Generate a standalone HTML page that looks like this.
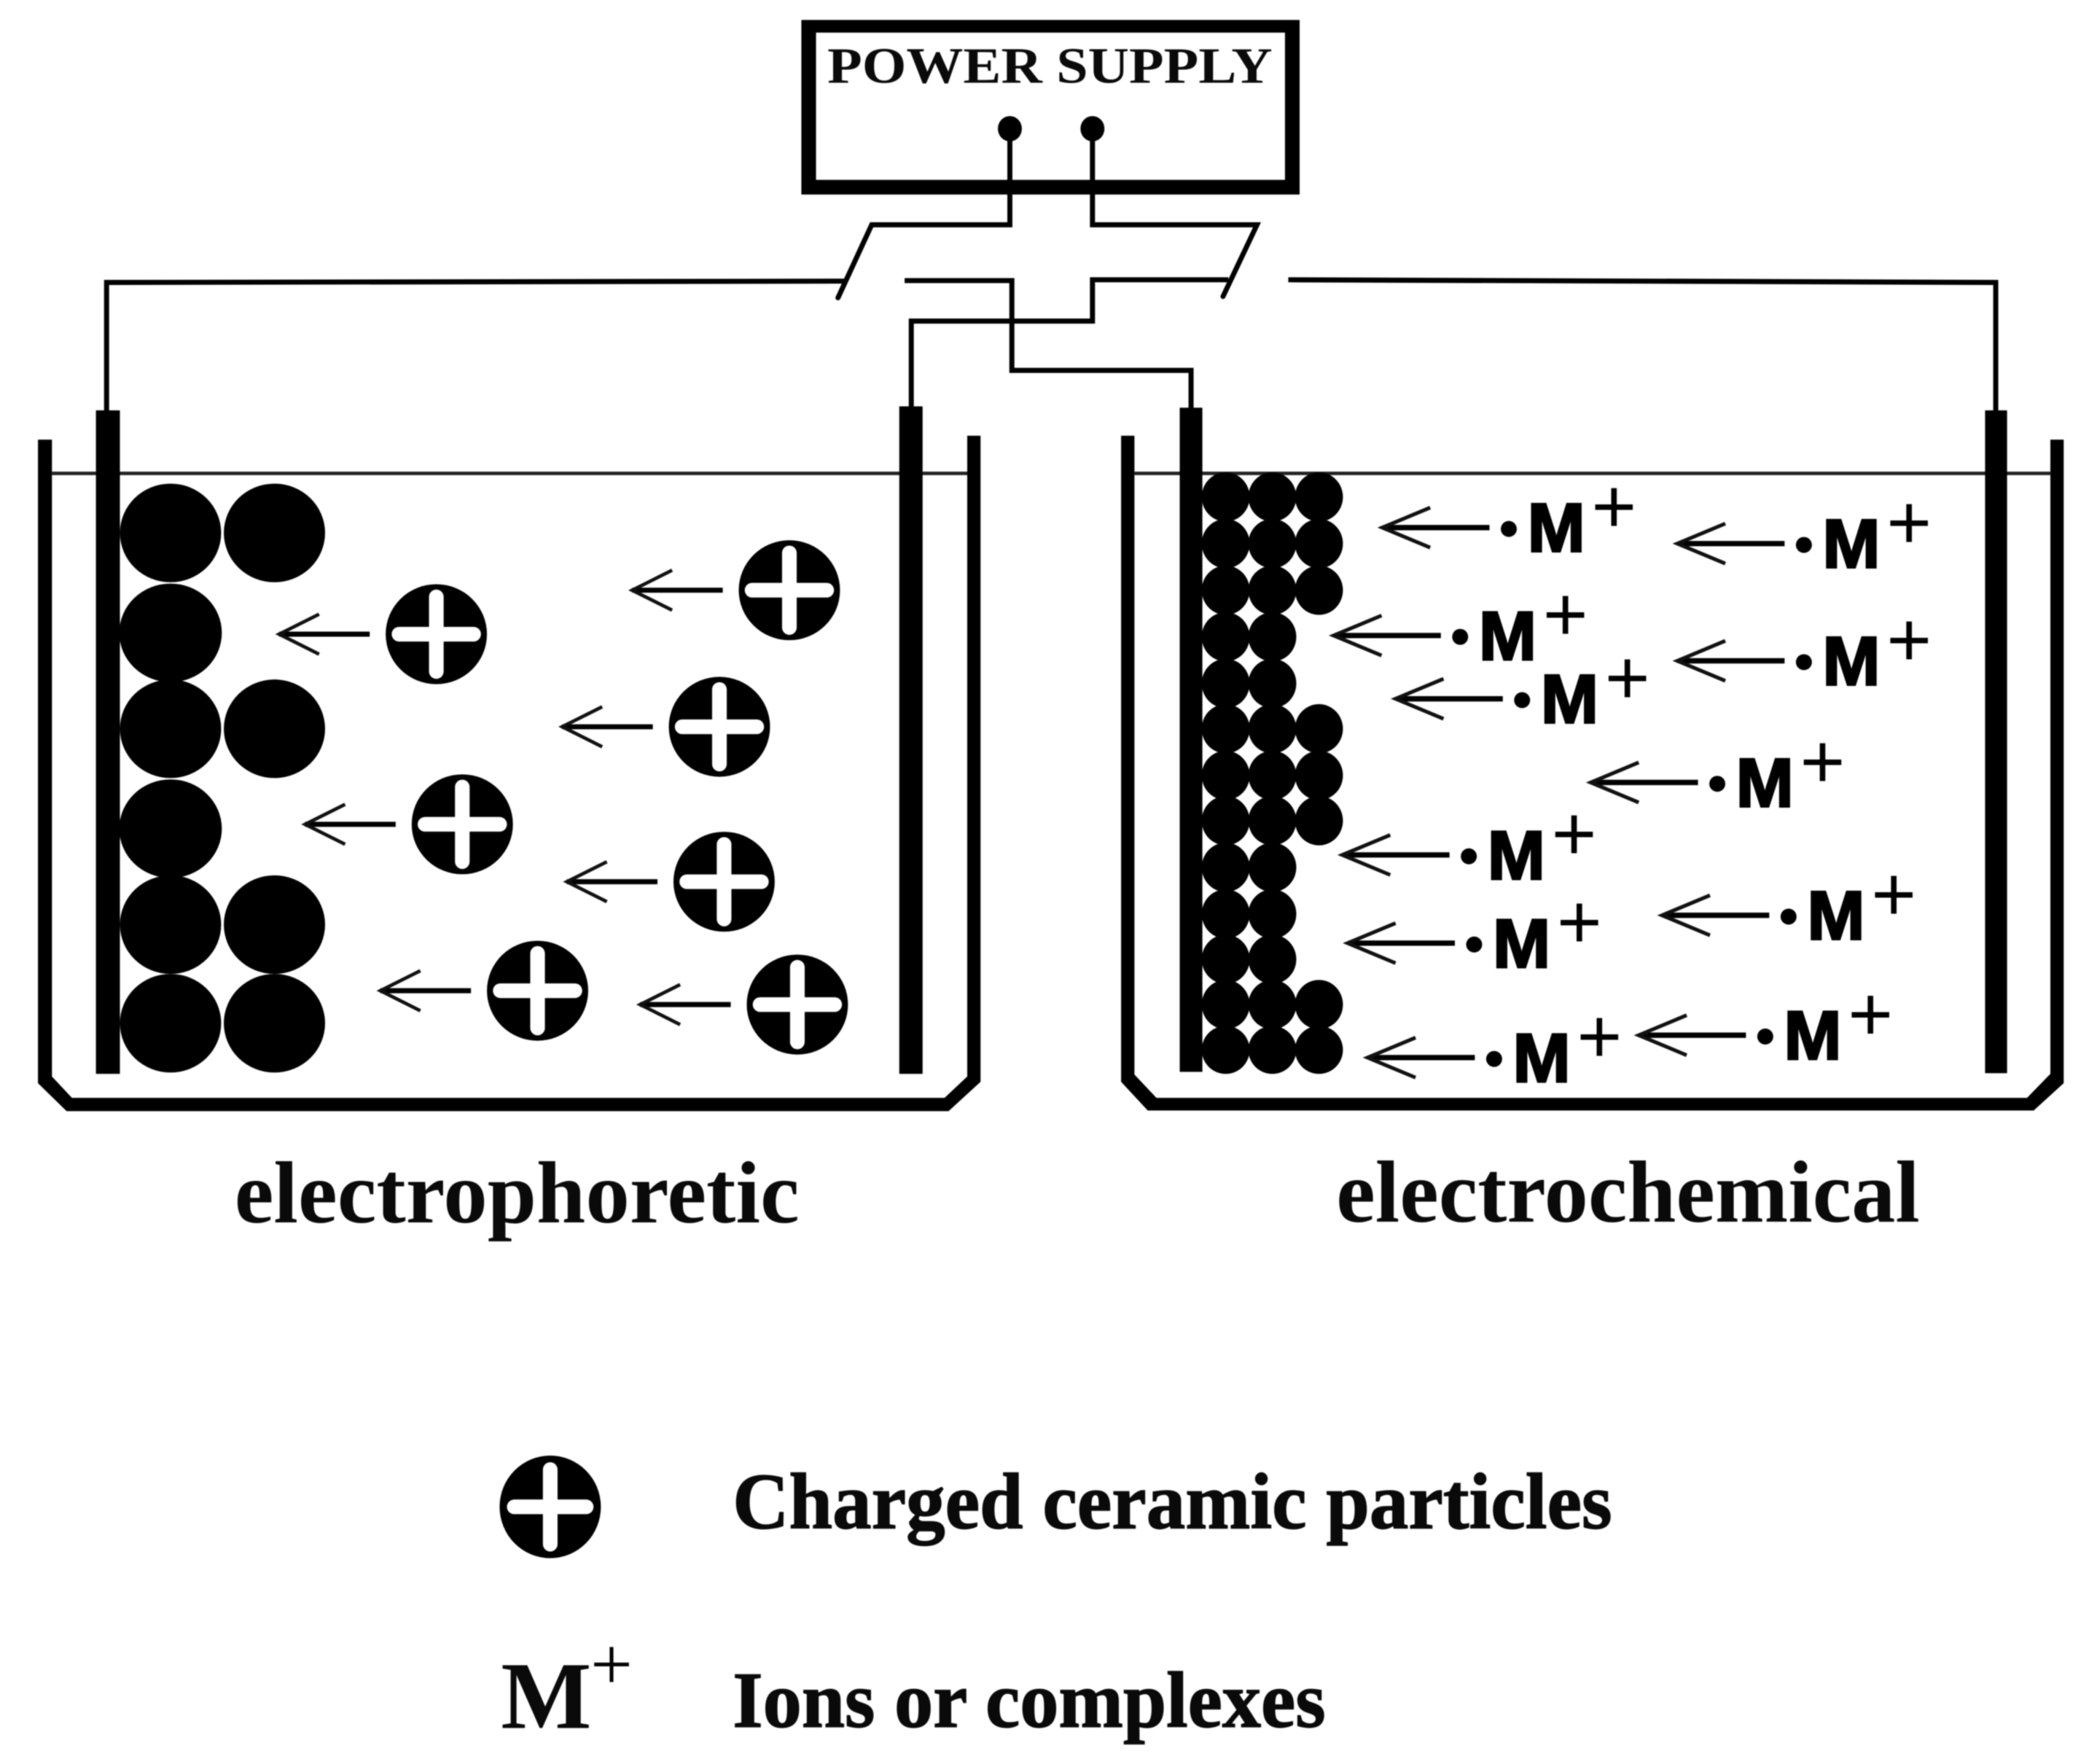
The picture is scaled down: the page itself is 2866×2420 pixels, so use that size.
<!DOCTYPE html>
<html><head><meta charset="utf-8"><title>Electrophoretic and electrochemical deposition</title>
<style>
html,body{margin:0;padding:0;background:#fff}
svg{display:block;filter:blur(.7px)}
.M{font:bold 52px "Liberation Sans",sans-serif;fill:#000;stroke:#000;stroke-width:1.6}
.P{font:58px "Liberation Sans",sans-serif;fill:#000;text-anchor:middle}
.S{font-family:"Liberation Serif",serif;font-weight:bold;fill:#0a0a0a}
</style></head><body>
<svg width="2866" height="2420" viewBox="0 0 1568 1324" preserveAspectRatio="none" xmlns="http://www.w3.org/2000/svg">
<defs>
<g id="pp">
<ellipse cx="0" cy="0" rx="38" ry="37.5" fill="#000"/>
<path d="M-28,0H28M0,-28V28" stroke="#fff" stroke-width="11" stroke-linecap="round" fill="none"/>
<path d="M-50,0H-118" stroke="#000" stroke-width="3.8" fill="none"/>
<path d="M-88,-15L-118,0L-88,15" stroke="#111" stroke-width="2.6" fill="none"/>
</g>
<g id="ma">
<path d="M81.5,0H2" stroke="#000" stroke-width="4" fill="none"/>
<path d="M37,-15L1,0L37,15" stroke="#111" stroke-width="2.8" fill="none"/>
<circle cx="96" cy="1" r="6" fill="#000"/>
</g>
</defs>
<rect width="1568" height="1324" fill="#fff"/>

<!-- power supply -->
<path fill-rule="evenodd" d="M601.5,15H975.5V146H601.5ZM612.5,24.5V135H964.5V24.5Z" fill="#000"/>
<text class="S" x="621" y="62" font-size="38" textLength="334" lengthAdjust="spacingAndGlyphs">POWER SUPPLY</text>
<ellipse cx="758" cy="96.6" rx="9" ry="9.5"/>
<ellipse cx="820" cy="96.6" rx="9" ry="9.5"/>

<!-- wires -->
<g fill="none" stroke="#000" stroke-width="3.8" stroke-linejoin="miter">
<path d="M80,308V212L634,211"/>
<path d="M758,97V168.7H654.3L629,223.5" stroke-linecap="round"/>
<path d="M679,210.6H759.5V278H894V308"/>
<path d="M684,308V241H820V210H922"/>
<path d="M820,97V168.7H943.5L918,222.5" stroke-linecap="round"/>
<path d="M967,210L1498,212V308"/>
</g>

<!-- left bath -->
<path d="M28.5,330V813L50,834H712L736,812V327H726V808L709,824H54L39,808V330Z" fill="#000"/>
<rect x="39" y="354" width="687" height="2.6" fill="#222"/>
<rect x="72" y="308" width="18" height="498"/>
<rect x="675" y="305" width="17.5" height="501"/>

<!-- right bath -->
<path d="M841.5,327V812L861.5,833.5H1526.5L1549,813V330H1539V806L1521.5,824H868L851.5,806.5V327Z" fill="#000"/>
<rect x="851.5" y="354" width="688" height="2.6" fill="#222"/>
<rect x="885.5" y="306" width="17" height="498.5"/>
<rect x="1490" y="308" width="16.5" height="497.5"/>

<!-- deposited large particles -->
<g fill="#000">
<ellipse cx="128" cy="400" rx="38" ry="37"/><ellipse cx="206" cy="400" rx="38" ry="37"/>
<ellipse cx="128" cy="475" rx="38.5" ry="37"/>
<ellipse cx="128" cy="547" rx="38" ry="37"/><ellipse cx="206" cy="547" rx="38" ry="37"/>
<ellipse cx="128" cy="622" rx="38.5" ry="37"/>
<ellipse cx="128" cy="694" rx="38" ry="37"/><ellipse cx="206" cy="694" rx="38" ry="37"/>
<ellipse cx="128" cy="768" rx="38" ry="37"/><ellipse cx="206" cy="768" rx="38" ry="37"/>
</g>

<!-- moving charged particles -->
<use href="#pp" x="327.5" y="476"/>
<use href="#pp" x="592.5" y="443"/>
<use href="#pp" x="540" y="545.5"/>
<use href="#pp" x="347" y="618.7"/>
<use href="#pp" x="543.5" y="661.8"/>
<use href="#pp" x="403.5" y="743.6"/>
<use href="#pp" x="598.5" y="754"/>

<!-- small deposit -->
<g fill="#000">
<ellipse cx="920" cy="373" rx="18" ry="18.5"/><ellipse cx="955" cy="373" rx="18" ry="18.5"/><ellipse cx="990" cy="373" rx="18" ry="18.5"/>
<ellipse cx="920" cy="408" rx="18" ry="18.5"/><ellipse cx="955" cy="408" rx="18" ry="18.5"/><ellipse cx="990" cy="408" rx="18" ry="18.5"/>
<ellipse cx="920" cy="443" rx="18" ry="18.5"/><ellipse cx="955" cy="443" rx="18" ry="18.5"/><ellipse cx="990" cy="443" rx="18" ry="18.5"/>
<ellipse cx="920" cy="478" rx="18" ry="18.5"/><ellipse cx="955" cy="478" rx="18" ry="18.5"/>
<ellipse cx="920" cy="513" rx="18" ry="18.5"/><ellipse cx="955" cy="513" rx="18" ry="18.5"/>
<ellipse cx="920" cy="547" rx="18" ry="18.5"/><ellipse cx="955" cy="547" rx="18" ry="18.5"/><ellipse cx="990" cy="547" rx="18" ry="18.5"/>
<ellipse cx="920" cy="582" rx="18" ry="18.5"/><ellipse cx="955" cy="582" rx="18" ry="18.5"/><ellipse cx="990" cy="582" rx="18" ry="18.5"/>
<ellipse cx="920" cy="616" rx="18" ry="18.5"/><ellipse cx="955" cy="616" rx="18" ry="18.5"/><ellipse cx="990" cy="616" rx="18" ry="18.5"/>
<ellipse cx="920" cy="651" rx="18" ry="18.5"/><ellipse cx="955" cy="651" rx="18" ry="18.5"/>
<ellipse cx="920" cy="686" rx="18" ry="18.5"/><ellipse cx="955" cy="686" rx="18" ry="18.5"/>
<ellipse cx="920" cy="720" rx="18" ry="18.5"/><ellipse cx="955" cy="720" rx="18" ry="18.5"/>
<ellipse cx="920" cy="754" rx="18" ry="18.5"/><ellipse cx="955" cy="754" rx="18" ry="18.5"/><ellipse cx="990" cy="754" rx="18" ry="18.5"/>
<ellipse cx="920" cy="788" rx="18" ry="18"/><ellipse cx="955" cy="788" rx="18" ry="18"/><ellipse cx="990" cy="788" rx="18" ry="18"/>
</g>

<!-- M+ ions -->
<g transform="translate(1036.5,396)"><use href="#ma"/><text class="M" x="110" y="18">M</text><text class="P" x="175" y="4">+</text></g>
<g transform="translate(1258,408)"><use href="#ma"/><text class="M" x="110" y="18">M</text><text class="P" x="175" y="4">+</text></g>
<g transform="translate(1000,477)"><use href="#ma"/><text class="M" x="110" y="18">M</text><text class="P" x="175" y="4">+</text></g>
<g transform="translate(1258,496)"><use href="#ma"/><text class="M" x="110" y="18">M</text><text class="P" x="175" y="4">+</text></g>
<g transform="translate(1046.5,524.5)"><use href="#ma"/><text class="M" x="110" y="18">M</text><text class="P" x="175" y="4">+</text></g>
<g transform="translate(1193,587.3)"><use href="#ma"/><text class="M" x="110" y="18">M</text><text class="P" x="175" y="4">+</text></g>
<g transform="translate(1006.5,641.7)"><use href="#ma"/><text class="M" x="110" y="18">M</text><text class="P" x="175" y="4">+</text></g>
<g transform="translate(1246.5,687)"><use href="#ma"/><text class="M" x="110" y="18">M</text><text class="P" x="175" y="4">+</text></g>
<g transform="translate(1010.5,707.9)"><use href="#ma"/><text class="M" x="110" y="18">M</text><text class="P" x="175" y="4">+</text></g>
<g transform="translate(1229,777)"><use href="#ma"/><text class="M" x="110" y="18">M</text><text class="P" x="175" y="4">+</text></g>
<g transform="translate(1025.5,793.8)"><use href="#ma"/><text class="M" x="110" y="18">M</text><text class="P" x="175" y="4">+</text></g>

<!-- captions -->
<text class="S" x="176" y="917.5" font-size="66" textLength="424" lengthAdjust="spacingAndGlyphs">electrophoretic</text>
<text class="S" x="1003" y="917" font-size="66" textLength="438" lengthAdjust="spacingAndGlyphs">electrochemical</text>

<!-- legend -->
<ellipse cx="413" cy="1131" rx="38" ry="38.5" fill="#000"/>
<path d="M386,1131H440M413,1103V1159" stroke="#fff" stroke-width="11" stroke-linecap="round" fill="none"/>
<text class="S" x="550" y="1147" font-size="60" textLength="660" lengthAdjust="spacingAndGlyphs" stroke="#0a0a0a" stroke-width=".8">Charged ceramic particles</text>
<text class="S" x="376" y="1297" font-size="72" textLength="68" lengthAdjust="spacingAndGlyphs">M</text>
<text x="459" y="1268" font-size="56" text-anchor="middle" font-family="'Liberation Serif',serif" fill="#000">+</text>
<text class="S" x="550" y="1296" font-size="60" textLength="445" lengthAdjust="spacingAndGlyphs" stroke="#0a0a0a" stroke-width=".8">Ions or complexes</text>
</svg>
</body></html>
